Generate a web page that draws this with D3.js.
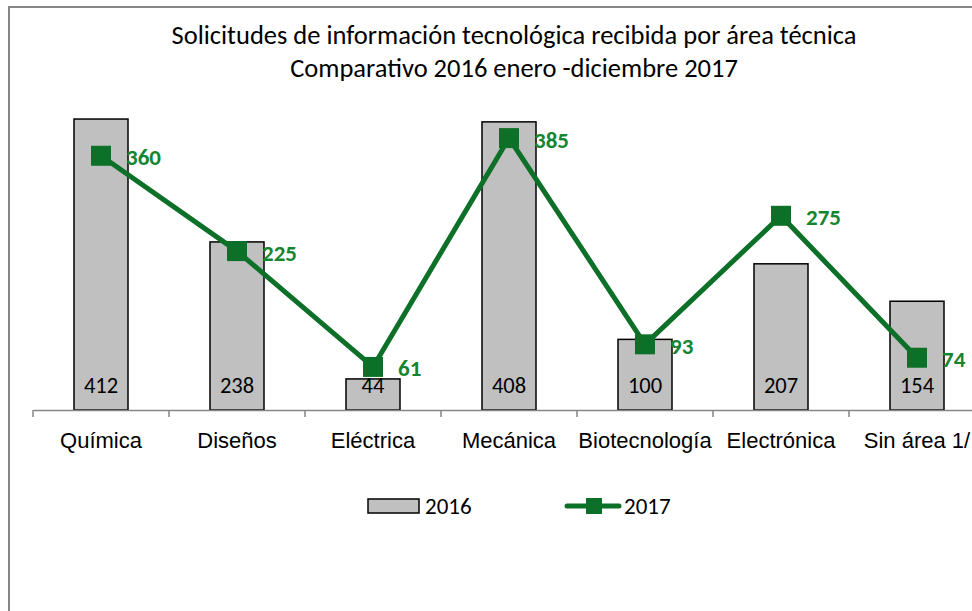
<!DOCTYPE html>
<html>
<head>
<meta charset="utf-8">
<script src="https://cdn.jsdelivr.net/npm/d3@7"></script>
<style>
  html, body { margin: 0; padding: 0; background: #fff; }
  svg { display: block; font-family: Carlito, Calibri, Lato, "Open Sans", sans-serif; }
</style>
</head>
<body>
<svg id="chart" width="972" height="611"></svg>
<script>
// Áreas técnicas y solicitudes por año
const categories = ["Química", "Diseños", "Eléctrica", "Mecánica", "Biotecnología", "Electrónica", "Sin área 1/"];
const values2016 = [412, 238, 44, 408, 100, 207, 154];
const values2017 = [360, 225, 61, 385, 93, 275, 74];
const seriesNames = ["2016", "2017"];
const titleLines = [
  "Solicitudes de información tecnológica recibida por área técnica",
  "Comparativo 2016 enero -diciembre 2017"
];

const svg = d3.select("#chart");
const green = "#0d7028";
const greenText = "#168530";

// marco del gráfico
svg.append("rect")
  .attr("x", 9).attr("y", 7)
  .attr("width", 990).attr("height", 640)
  .attr("fill", "#fff")
  .attr("stroke", "#878787").attr("stroke-width", 2);

// título
svg.append("g").selectAll("text").data(titleLines).join("text")
  .attr("x", 514)
  .attr("y", (d, i) => 44 + i * 33)
  .attr("text-anchor", "middle")
  .attr("font-size", 26.5)
  .attr("fill", "#000")
  .text(d => d);

const x = d3.scaleBand().domain(categories).range([33, 985]).paddingInner(0).paddingOuter(0);
const y = d3.scaleLinear().domain([0, 450]).range([410, 92.2]);
const barW = 54;

// barras 2016
svg.append("g").selectAll("rect").data(categories).join("rect")
  .attr("x", d => x(d) + x.bandwidth() / 2 - barW / 2)
  .attr("y", (d, i) => y(values2016[i]))
  .attr("width", barW)
  .attr("height", (d, i) => y(0) - y(values2016[i]))
  .attr("fill", "#c0c0c0")
  .attr("stroke", "#000")
  .attr("stroke-width", 1.5);

// eje de categorías
const axis = svg.append("g")
  .attr("transform", `translate(0,${y(0)})`)
  .call(d3.axisBottom(x).tickSize(0).tickPadding(0).tickFormat(""));
axis.select(".domain").attr("stroke", "#868686").attr("stroke-width", 1.5);
axis.selectAll(".tick").remove();
const bounds = categories.map(d => x(d)).concat([x.range()[1]]);
axis.selectAll("line.sep").data(bounds).join("line")
  .attr("class", "sep")
  .attr("x1", d => d).attr("x2", d => d)
  .attr("y1", 0).attr("y2", 7)
  .attr("stroke", "#868686").attr("stroke-width", 1.5);
axis.selectAll("text.cat").data(categories).join("text")
  .attr("class", "cat")
  .attr("x", d => x(d) + x.bandwidth() / 2)
  .attr("y", 38)
  .attr("text-anchor", "middle")
  .attr("font-size", 22)
  .attr("fill", "#000")
  .text(d => d);

// etiquetas 2016 en la base de cada barra
svg.append("g").selectAll("text").data(categories).join("text")
  .attr("x", d => x(d) + x.bandwidth() / 2)
  .attr("y", y(0) - 25)
  .attr("dy", "0.35em")
  .attr("text-anchor", "middle")
  .attr("font-size", 22.5)
  .attr("fill", "#000")
  .text((d, i) => values2016[i]);

// línea 2017
const pts = categories.map((d, i) => [x(d) + x.bandwidth() / 2, y(values2017[i])]);
svg.append("path")
  .datum(pts)
  .attr("d", d3.line())
  .attr("fill", "none")
  .attr("stroke", green)
  .attr("stroke-width", 5)
  .attr("stroke-linejoin", "round");

svg.append("g").selectAll("rect").data(pts).join("rect")
  .attr("x", d => d[0] - 10)
  .attr("y", d => d[1] - 10)
  .attr("width", 20).attr("height", 20)
  .attr("fill", green);

svg.append("g").selectAll("text").data(pts).join("text")
  .attr("x", d => d[0] + 25)
  .attr("y", d => d[1] + 1.5)
  .attr("dy", "0.35em")
  .attr("font-size", 23)
  .attr("font-weight", "bold")
  .attr("fill", greenText)
  .text((d, i) => values2017[i]);

// leyenda
const leg = svg.append("g").attr("transform", "translate(0,506)");
leg.append("rect")
  .attr("x", 368).attr("y", -7)
  .attr("width", 51).attr("height", 14)
  .attr("fill", "#c0c0c0").attr("stroke", "#000").attr("stroke-width", 1.5);
leg.append("text")
  .attr("x", 425).attr("y", 0).attr("dy", "0.35em")
  .attr("font-size", 23).text(seriesNames[0]);
leg.append("line")
  .attr("x1", 567).attr("x2", 619).attr("y1", 0).attr("y2", 0)
  .attr("stroke", green).attr("stroke-width", 5).attr("stroke-linecap", "round");
leg.append("rect")
  .attr("x", 586).attr("y", -8).attr("width", 16).attr("height", 16)
  .attr("fill", green);
leg.append("text")
  .attr("x", 624).attr("y", 0).attr("dy", "0.35em")
  .attr("font-size", 23).text(seriesNames[1]);
</script>
</body>
</html>
